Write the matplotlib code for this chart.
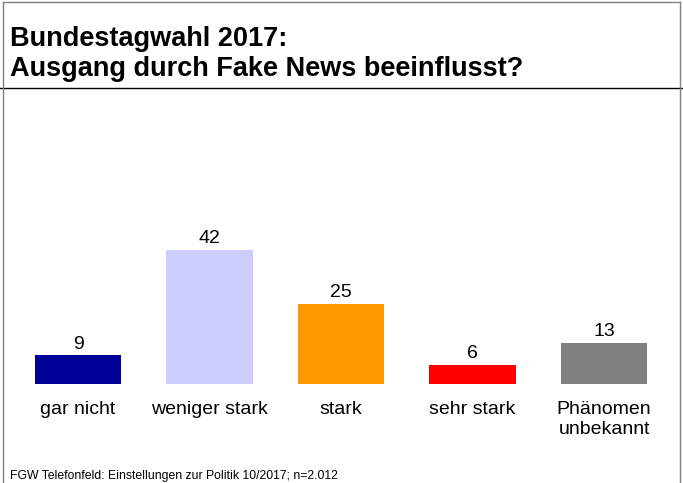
import matplotlib.pyplot as plt
from matplotlib.lines import Line2D

categories = ['gar nicht', 'weniger stark', 'stark', 'sehr stark', 'Phänomen\nunbekannt']
values = [9, 42, 25, 6, 13]
colors = ['#000099', '#ccccff', '#ff9900', '#ff0000', '#808080']

title = 'Bundestagwahl 2017:\nAusgang durch Fake News beeinflusst?'
footer = 'FGW Telefonfeld: Einstellungen zur Politik 10/2017; n=2.012'

plt.rcParams['font.family'] = ['Liberation Sans', 'DejaVu Sans']

W, H = 683, 483
fig = plt.figure(figsize=(W / 100, H / 100), dpi=100)

# axes placed in pixel terms: bar centres at 78 + i*131.5, baseline at y=384
ax = fig.add_axes([12.25 / W, 99 / H, 657.5 / W, 159.5 / H])
x = range(len(values))
ax.bar(x, values, width=0.66, color=colors)
ax.set_xlim(-0.5, 4.5)
ax.set_ylim(0, 50)
ax.axis('off')

for i, v in enumerate(values):
    ax.annotate(str(v), (i, v), xytext=(0, 2), textcoords='offset points',
                ha='center', va='bottom', fontsize=14)
    ax.annotate(categories[i], (i, 0), xytext=(0, -12.5), textcoords='offset points',
                ha='center', va='top', fontsize=14, linespacing=1.2)

fig.text(10 / W, 1 - 26 / H, title, ha='left', va='top', fontsize=19.5,
         fontweight='bold', linespacing=1.2)
fig.text(10 / W, 1 - 475.5 / H, footer, ha='left', va='center', fontsize=8.8)

# frame lines
fig.add_artist(Line2D([0, 1], [1 - 88 / H, 1 - 88 / H], color='black', lw=1))
fig.add_artist(Line2D([3 / W, 680 / W], [1 - 2 / H, 1 - 2 / H], color='#808080', lw=1))
fig.add_artist(Line2D([3 / W, 3 / W], [0, 1 - 2 / H], color='#808080', lw=1))
fig.add_artist(Line2D([680 / W, 680 / W], [0, 1 - 2 / H], color='#808080', lw=1))

fig.savefig('out.png', dpi=100)
